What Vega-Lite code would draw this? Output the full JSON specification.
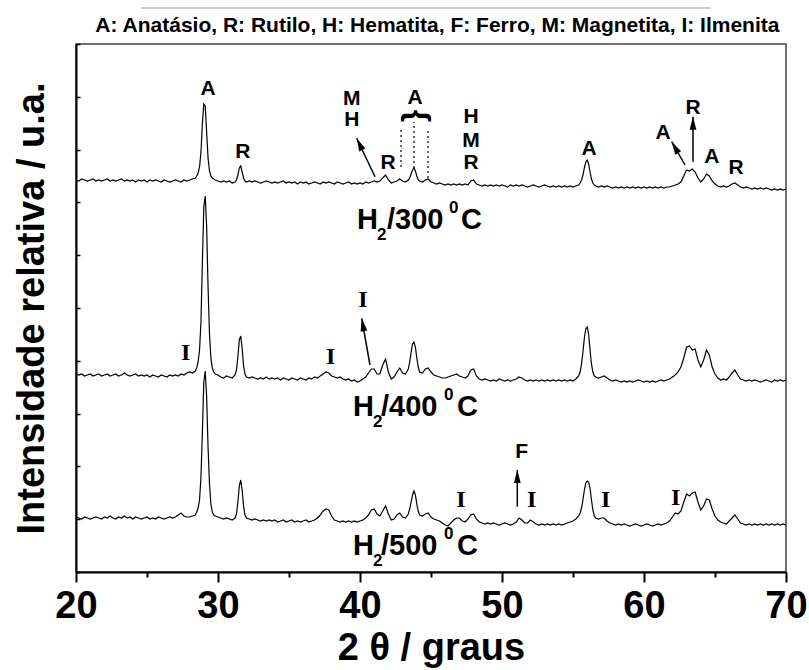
{
  "$schema": "https://vega.github.io/schema/vega-lite/v6.json",
  "width": 710,
  "height": 528,
  "autosize": {"type": "none"},
  "padding": {"left": 76, "top": 44, "right": 23, "bottom": 98},
  "background": "white",
  "config": {
    "view": {"stroke": "#444", "strokeWidth": 1.5},
    "font": "Liberation Sans"
  },
  "datasets": {
    "xrd": [
      {"t":20.0,"a":392,"b":198,"c":55},{"t":20.2,"a":391,"b":197,"c":54},{"t":20.4,"a":393,"b":198,"c":53},{"t":20.6,"a":392,"b":196,"c":55},{"t":20.8,"a":391,"b":197,"c":54},
      {"t":21.0,"a":392,"b":198,"c":53},{"t":21.2,"a":393,"b":196,"c":54},{"t":21.4,"a":391,"b":197,"c":55},{"t":21.6,"a":392,"b":198,"c":54},{"t":21.8,"a":391,"b":196,"c":53},
      {"t":22.0,"a":392,"b":197,"c":55},{"t":22.2,"a":393,"b":198,"c":54},{"t":22.4,"a":391,"b":196,"c":56},{"t":22.6,"a":392,"b":197,"c":54},{"t":22.8,"a":391,"b":198,"c":53},
      {"t":23.0,"a":392,"b":196,"c":55},{"t":23.2,"a":393,"b":197,"c":54},{"t":23.4,"a":391,"b":199,"c":56},{"t":23.6,"a":392,"b":197,"c":54},{"t":23.8,"a":391,"b":196,"c":55},
      {"t":24.0,"a":392,"b":197,"c":53},{"t":24.2,"a":390,"b":198,"c":55},{"t":24.4,"a":392,"b":196,"c":54},{"t":24.6,"a":391,"b":197,"c":53},{"t":24.8,"a":392,"b":196,"c":54},
      {"t":25.0,"a":390,"b":197,"c":55},{"t":25.2,"a":392,"b":195,"c":53},{"t":25.4,"a":391,"b":197,"c":54},{"t":25.6,"a":392,"b":196,"c":53},{"t":25.8,"a":391,"b":195,"c":55},
      {"t":26.0,"a":390,"b":197,"c":54},{"t":26.2,"a":392,"b":196,"c":53},{"t":26.4,"a":391,"b":195,"c":54},{"t":26.6,"a":390,"b":197,"c":55},{"t":26.8,"a":391,"b":196,"c":54},
      {"t":27.0,"a":392,"b":197,"c":55},{"t":27.2,"a":391,"b":196,"c":57},{"t":27.4,"a":390,"b":198,"c":59},{"t":27.6,"a":392,"b":197,"c":56},{"t":27.8,"a":391,"b":199,"c":55},
      {"t":28.0,"a":392,"b":200,"c":55},{"t":28.2,"a":393,"b":199,"c":56},{"t":28.4,"a":394,"b":201,"c":57},{"t":28.5,"a":396,"b":204,"c":60},{"t":28.6,"a":399,"b":210,"c":64},
      {"t":28.7,"a":405,"b":222,"c":72},{"t":28.8,"a":420,"b":250,"c":95},{"t":28.9,"a":448,"b":310,"c":140},{"t":29.0,"a":468,"b":365,"c":190},{"t":29.1,"a":466,"b":376,"c":201},
      {"t":29.2,"a":440,"b":345,"c":175},{"t":29.3,"a":414,"b":285,"c":125},{"t":29.4,"a":401,"b":238,"c":88},{"t":29.5,"a":396,"b":214,"c":68},{"t":29.6,"a":394,"b":204,"c":60},
      {"t":29.7,"a":393,"b":200,"c":57},{"t":29.8,"a":392,"b":198,"c":56},{"t":30.0,"a":391,"b":197,"c":55},{"t":30.2,"a":390,"b":195,"c":54},{"t":30.4,"a":391,"b":194,"c":53},
      {"t":30.6,"a":390,"b":196,"c":54},{"t":30.8,"a":391,"b":195,"c":53},{"t":31.0,"a":389,"b":194,"c":52},{"t":31.2,"a":390,"b":197,"c":54},{"t":31.3,"a":392,"b":202,"c":58},
      {"t":31.4,"a":397,"b":215,"c":70},{"t":31.5,"a":404,"b":232,"c":86},{"t":31.6,"a":406,"b":236,"c":92},{"t":31.7,"a":400,"b":224,"c":82},{"t":31.8,"a":394,"b":206,"c":66},
      {"t":31.9,"a":391,"b":198,"c":57},{"t":32.0,"a":390,"b":195,"c":54},{"t":32.2,"a":391,"b":194,"c":53},{"t":32.4,"a":390,"b":195,"c":52},{"t":32.6,"a":391,"b":194,"c":53},
      {"t":32.8,"a":390,"b":193,"c":52},{"t":33.0,"a":389,"b":194,"c":51},{"t":33.2,"a":390,"b":193,"c":52},{"t":33.4,"a":391,"b":195,"c":51},{"t":33.6,"a":390,"b":193,"c":52},
      {"t":33.8,"a":389,"b":194,"c":51},{"t":34.0,"a":390,"b":193,"c":52},{"t":34.2,"a":389,"b":194,"c":50},{"t":34.4,"a":390,"b":192,"c":51},{"t":34.6,"a":391,"b":194,"c":52},
      {"t":34.8,"a":389,"b":193,"c":50},{"t":35.0,"a":390,"b":192,"c":51},{"t":35.2,"a":389,"b":194,"c":52},{"t":35.4,"a":390,"b":193,"c":50},{"t":35.6,"a":388,"b":192,"c":51},
      {"t":35.8,"a":390,"b":194,"c":50},{"t":36.0,"a":389,"b":193,"c":51},{"t":36.2,"a":390,"b":192,"c":52},{"t":36.4,"a":388,"b":194,"c":50},{"t":36.6,"a":389,"b":193,"c":51},
      {"t":36.8,"a":390,"b":195,"c":52},{"t":37.0,"a":389,"b":194,"c":54},{"t":37.2,"a":388,"b":196,"c":57},{"t":37.4,"a":390,"b":198,"c":61},{"t":37.6,"a":389,"b":200,"c":63},
      {"t":37.8,"a":390,"b":199,"c":62},{"t":38.0,"a":389,"b":196,"c":56},{"t":38.2,"a":388,"b":195,"c":52},{"t":38.4,"a":390,"b":194,"c":51},{"t":38.6,"a":389,"b":195,"c":50},
      {"t":38.8,"a":388,"b":193,"c":51},{"t":39.0,"a":389,"b":192,"c":50},{"t":39.2,"a":390,"b":193,"c":51},{"t":39.4,"a":388,"b":191,"c":50},{"t":39.6,"a":389,"b":192,"c":51},
      {"t":39.8,"a":388,"b":190,"c":50},{"t":40.0,"a":389,"b":191,"c":51},{"t":40.2,"a":388,"b":193,"c":52},{"t":40.4,"a":390,"b":195,"c":54},{"t":40.6,"a":389,"b":199,"c":57},
      {"t":40.8,"a":390,"b":203,"c":62},{"t":41.0,"a":391,"b":203,"c":63},{"t":41.2,"a":390,"b":198,"c":58},{"t":41.4,"a":391,"b":198,"c":56},{"t":41.6,"a":394,"b":207,"c":61},
      {"t":41.8,"a":397,"b":213,"c":66},{"t":42.0,"a":392,"b":200,"c":58},{"t":42.2,"a":389,"b":193,"c":52},{"t":42.4,"a":390,"b":195,"c":53},{"t":42.6,"a":391,"b":200,"c":57},
      {"t":42.8,"a":393,"b":204,"c":59},{"t":43.0,"a":391,"b":199,"c":55},{"t":43.2,"a":390,"b":198,"c":54},{"t":43.4,"a":392,"b":203,"c":58},{"t":43.5,"a":394,"b":210,"c":63},
      {"t":43.6,"a":398,"b":220,"c":70},{"t":43.7,"a":402,"b":228,"c":77},{"t":43.8,"a":404,"b":230,"c":81},{"t":43.9,"a":401,"b":225,"c":77},{"t":44.0,"a":396,"b":214,"c":68},
      {"t":44.1,"a":392,"b":205,"c":61},{"t":44.2,"a":391,"b":200,"c":57},{"t":44.4,"a":390,"b":199,"c":56},{"t":44.6,"a":392,"b":203,"c":58},{"t":44.8,"a":393,"b":204,"c":59},
      {"t":45.0,"a":390,"b":200,"c":55},{"t":45.2,"a":389,"b":197,"c":53},{"t":45.4,"a":388,"b":196,"c":52},{"t":45.6,"a":389,"b":195,"c":51},{"t":45.8,"a":388,"b":194,"c":49},
      {"t":46.0,"a":387,"b":194,"c":47},{"t":46.2,"a":388,"b":195,"c":46},{"t":46.4,"a":387,"b":196,"c":49},{"t":46.6,"a":388,"b":197,"c":52},{"t":46.8,"a":387,"b":198,"c":54},
      {"t":47.0,"a":388,"b":196,"c":54},{"t":47.2,"a":387,"b":195,"c":51},{"t":47.4,"a":388,"b":194,"c":50},{"t":47.6,"a":387,"b":196,"c":53},{"t":47.8,"a":391,"b":202,"c":57},
      {"t":48.0,"a":392,"b":203,"c":58},{"t":48.2,"a":388,"b":196,"c":53},{"t":48.4,"a":387,"b":193,"c":50},{"t":48.6,"a":386,"b":192,"c":49},{"t":48.8,"a":387,"b":193,"c":48},
      {"t":49.0,"a":386,"b":192,"c":49},{"t":49.2,"a":387,"b":191,"c":48},{"t":49.4,"a":386,"b":192,"c":49},{"t":49.6,"a":387,"b":191,"c":48},{"t":49.8,"a":386,"b":193,"c":47},
      {"t":50.0,"a":387,"b":192,"c":48},{"t":50.2,"a":386,"b":191,"c":49},{"t":50.4,"a":385,"b":192,"c":48},{"t":50.6,"a":387,"b":191,"c":47},{"t":50.8,"a":386,"b":192,"c":48},
      {"t":51.0,"a":387,"b":193,"c":50},{"t":51.2,"a":386,"b":195,"c":54},{"t":51.4,"a":387,"b":194,"c":52},{"t":51.6,"a":386,"b":192,"c":49},{"t":51.8,"a":385,"b":191,"c":49},
      {"t":52.0,"a":386,"b":192,"c":52},{"t":52.2,"a":387,"b":191,"c":50},{"t":52.4,"a":386,"b":192,"c":48},{"t":52.6,"a":385,"b":191,"c":47},{"t":52.8,"a":386,"b":192,"c":48},
      {"t":53.0,"a":387,"b":191,"c":47},{"t":53.2,"a":386,"b":192,"c":48},{"t":53.4,"a":385,"b":191,"c":47},{"t":53.6,"a":386,"b":192,"c":48},{"t":53.8,"a":385,"b":191,"c":47},
      {"t":54.0,"a":386,"b":192,"c":48},{"t":54.2,"a":385,"b":191,"c":47},{"t":54.4,"a":386,"b":192,"c":48},{"t":54.6,"a":385,"b":191,"c":49},{"t":54.8,"a":386,"b":192,"c":50},
      {"t":55.0,"a":385,"b":191,"c":51},{"t":55.2,"a":386,"b":193,"c":53},{"t":55.4,"a":387,"b":196,"c":56},{"t":55.5,"a":389,"b":200,"c":59},{"t":55.6,"a":392,"b":208,"c":64},
      {"t":55.7,"a":397,"b":220,"c":72},{"t":55.8,"a":404,"b":234,"c":82},{"t":55.9,"a":410,"b":243,"c":89},{"t":56.0,"a":412,"b":245,"c":91},{"t":56.1,"a":408,"b":238,"c":90},
      {"t":56.2,"a":400,"b":222,"c":84},{"t":56.3,"a":393,"b":208,"c":72},{"t":56.4,"a":389,"b":200,"c":62},{"t":56.5,"a":387,"b":196,"c":56},{"t":56.6,"a":386,"b":195,"c":54},
      {"t":56.8,"a":385,"b":194,"c":53},{"t":57.0,"a":386,"b":195,"c":54},{"t":57.2,"a":385,"b":196,"c":54},{"t":57.4,"a":386,"b":194,"c":51},{"t":57.6,"a":385,"b":192,"c":49},
      {"t":57.8,"a":384,"b":191,"c":48},{"t":58.0,"a":385,"b":192,"c":47},{"t":58.2,"a":384,"b":191,"c":48},{"t":58.4,"a":385,"b":190,"c":47},{"t":58.6,"a":384,"b":191,"c":48},
      {"t":58.8,"a":385,"b":190,"c":47},{"t":59.0,"a":384,"b":191,"c":46},{"t":59.2,"a":385,"b":190,"c":47},{"t":59.4,"a":384,"b":191,"c":48},{"t":59.6,"a":385,"b":192,"c":47},
      {"t":59.8,"a":384,"b":191,"c":46},{"t":60.0,"a":385,"b":190,"c":47},{"t":60.2,"a":384,"b":191,"c":48},{"t":60.4,"a":385,"b":190,"c":47},{"t":60.6,"a":384,"b":191,"c":46},
      {"t":60.8,"a":385,"b":190,"c":47},{"t":61.0,"a":384,"b":191,"c":48},{"t":61.2,"a":385,"b":192,"c":47},{"t":61.4,"a":384,"b":191,"c":48},{"t":61.6,"a":385,"b":192,"c":49},
      {"t":61.8,"a":385,"b":193,"c":51},{"t":62.0,"a":386,"b":195,"c":55},{"t":62.2,"a":387,"b":197,"c":59},{"t":62.4,"a":388,"b":200,"c":58},{"t":62.6,"a":390,"b":205,"c":61},
      {"t":62.8,"a":396,"b":214,"c":70},{"t":63.0,"a":402,"b":225,"c":78},{"t":63.2,"a":401,"b":226,"c":76},{"t":63.4,"a":403,"b":222,"c":79},{"t":63.6,"a":400,"b":223,"c":80},
      {"t":63.8,"a":394,"b":212,"c":70},{"t":64.0,"a":390,"b":205,"c":62},{"t":64.2,"a":393,"b":212,"c":66},{"t":64.4,"a":398,"b":222,"c":73},{"t":64.6,"a":396,"b":217,"c":72},
      {"t":64.8,"a":391,"b":205,"c":63},{"t":65.0,"a":388,"b":198,"c":56},{"t":65.2,"a":386,"b":194,"c":52},{"t":65.4,"a":385,"b":192,"c":50},{"t":65.6,"a":386,"b":193,"c":49},
      {"t":65.8,"a":385,"b":192,"c":48},{"t":66.0,"a":386,"b":195,"c":51},{"t":66.2,"a":388,"b":199,"c":54},{"t":66.4,"a":389,"b":202,"c":57},{"t":66.6,"a":387,"b":197,"c":53},
      {"t":66.8,"a":385,"b":193,"c":49},{"t":67.0,"a":384,"b":192,"c":48},{"t":67.2,"a":385,"b":191,"c":47},{"t":67.4,"a":384,"b":192,"c":48},{"t":67.6,"a":383,"b":191,"c":47},
      {"t":67.8,"a":384,"b":192,"c":48},{"t":68.0,"a":383,"b":191,"c":47},{"t":68.2,"a":384,"b":190,"c":48},{"t":68.4,"a":383,"b":191,"c":47},{"t":68.6,"a":384,"b":192,"c":48},
      {"t":68.8,"a":383,"b":191,"c":47},{"t":69.0,"a":382,"b":190,"c":48},{"t":69.2,"a":383,"b":192,"c":47},{"t":69.4,"a":382,"b":191,"c":48},{"t":69.6,"a":383,"b":192,"c":47},
      {"t":69.8,"a":382,"b":191,"c":48},{"t":70.0,"a":383,"b":192,"c":47}
    ],
    "ann": [
      {"g":"T","x":45.45,"y":546,"txt":"A: Anatásio, R: Rutilo, H: Hematita, F: Ferro, M: Magnetita, I: Ilmenita"},
      {"g":"L","x":29.3,"y":483,"txt":"A"},{"g":"L","x":31.74,"y":420,"txt":"R"},
      {"g":"L","x":39.42,"y":473,"txt":"M"},{"g":"L","x":39.42,"y":452,"txt":"H"},
      {"g":"L","x":41.97,"y":409,"txt":"R"},{"g":"L","x":43.87,"y":474,"txt":"A"},
      {"g":"L","x":47.82,"y":455,"txt":"H"},{"g":"L","x":47.82,"y":431,"txt":"M"},{"g":"L","x":47.82,"y":409,"txt":"R"},
      {"g":"L","x":56.13,"y":423,"txt":"A"},{"g":"L","x":61.34,"y":439,"txt":"A"},
      {"g":"L","x":63.45,"y":464,"txt":"R"},{"g":"L","x":64.77,"y":415,"txt":"A"},
      {"g":"L","x":66.48,"y":404,"txt":"R"},{"g":"L","x":51.39,"y":120,"txt":"F"},
      {"g":"I","x":27.73,"y":219,"txt":"I"},{"g":"I","x":37.94,"y":215,"txt":"I"},{"g":"I","x":40.21,"y":272,"txt":"I"},
      {"g":"I","x":47.11,"y":72,"txt":"I"},{"g":"I","x":52.09,"y":72,"txt":"I"},{"g":"I","x":57.3,"y":72,"txt":"I"},{"g":"I","x":62.23,"y":74,"txt":"I"},
      {"g":"B","x":39.79,"y":343,"txt":"H"},{"g":"B","x":41.9,"y":343,"txt":"/300"},{"g":"B","x":47.11,"y":343,"txt":"C"},
      {"g":"S","x":41.2,"y":332,"txt":"2"},{"g":"S","x":46.27,"y":359,"txt":"0"},
      {"g":"B","x":39.51,"y":156,"txt":"H"},{"g":"B","x":41.48,"y":156,"txt":"/400"},{"g":"B","x":46.83,"y":156,"txt":"C"},
      {"g":"S","x":40.92,"y":145,"txt":"2"},{"g":"S","x":45.91,"y":172,"txt":"0"},
      {"g":"B","x":39.51,"y":17,"txt":"H"},{"g":"B","x":41.48,"y":17,"txt":"/500"},{"g":"B","x":46.83,"y":17,"txt":"C"},
      {"g":"S","x":40.92,"y":6,"txt":"2"},{"g":"S","x":45.91,"y":33,"txt":"0"},
      {"g":"K","x":44.09,"y":456,"txt":"{"}
    ],
    "arr": [
      {"x":41.056,"y":395.3,"x2":39.768,"y2":433.7},
      {"x":62.887,"y":407,"x2":61.951,"y2":430.3},
      {"x":63.451,"y":410.3,"x2":63.451,"y2":455.3},
      {"x":40.704,"y":207,"x2":40.12,"y2":253.7},
      {"x":51.077,"y":65.3,"x2":51.077,"y2":102}
    ],
    "dots": [
      {"x":42.887,"y":405,"y2":445},
      {"x":43.803,"y":404,"y2":450},
      {"x":44.789,"y":394,"y2":444}
    ],
    "top": [
      {"x":24.6,"x2":64.7,"y":564}
    ]
  },
  "layer": [
    {
      "data": {"name": "xrd"},
      "transform": [{"fold": ["a", "b", "c"], "as": ["s", "v"]}],
      "mark": {"type": "line", "color": "black", "strokeWidth": 1.2},
      "encoding": {
        "x": {
          "field": "t", "type": "quantitative",
          "scale": {"domain": [20, 70], "nice": false, "zero": false},
          "axis": {
            "title": "2 θ / graus", "grid": false,
            "values": [20, 25, 30, 35, 40, 45, 50, 55, 60, 65, 70],
            "labelExpr": "datum.value % 10 === 0 ? datum.label : ''",
            "labelFont": "Liberation Sans", "labelFontSize": 38, "labelFontWeight": "bold", "labelColor": "black",
            "labelPadding": 5, "labelFlush": false, "labelOverlap": false,
            "tickSize": {"condition": {"test": "datum.value % 10 === 0", "value": 10}, "value": 5},
            "tickColor": "black", "tickWidth": 2,
            "domainColor": "black", "domainWidth": 2,
            "titleFont": "Liberation Sans", "titleFontSize": 38, "titleFontWeight": "bold", "titleColor": "black",
            "titlePadding": 4
          }
        },
        "y": {
          "field": "v", "type": "quantitative",
          "scale": {"domain": [0, 528], "nice": false, "zero": false},
          "axis": {
            "title": "Intensidade relativa / u.a.", "grid": false, "labels": false,
            "values": [0,26.4,52.8,79.2,105.6,132,158.4,184.8,211.2,237.6,264,290.4,316.8,343.2,369.6,396,422.4,448.8,475.2,501.6,528],
            "tickSize": -4, "tickColor": "black", "tickWidth": 1.5,
            "domainColor": "black", "domainWidth": 2,
            "titleFont": "Liberation Sans", "titleFontSize": 38, "titleFontWeight": "bold", "titleColor": "black",
            "titlePadding": 24
          }
        },
        "detail": {"field": "s", "type": "nominal"}
      }
    },
    {
      "data": {"name": "dots"},
      "mark": {"type": "rule", "color": "black", "strokeWidth": 1.2, "strokeDash": [2, 3]},
      "encoding": {
        "x": {"field": "x", "type": "quantitative"},
        "y": {"field": "y", "type": "quantitative"},
        "y2": {"field": "y2"}
      }
    },
    {
      "data": {"name": "arr"},
      "mark": {"type": "rule", "color": "black", "strokeWidth": 1.5},
      "encoding": {
        "x": {"field": "x", "type": "quantitative"},
        "y": {"field": "y", "type": "quantitative"},
        "x2": {"field": "x2"},
        "y2": {"field": "y2"}
      }
    },
    {
      "data": {"name": "arr"},
      "transform": [{"calculate": "atan2((datum.x2 - datum.x) * 14.2, datum.y2 - datum.y) * 180 / PI", "as": "ang"}],
      "mark": {"type": "point", "shape": "M0,0L1.7,6.5L-1.7,6.5Z", "filled": true, "color": "black", "opacity": 1, "size": 16},
      "encoding": {
        "x": {"field": "x2", "type": "quantitative"},
        "y": {"field": "y2", "type": "quantitative"},
        "angle": {"field": "ang", "type": "quantitative", "scale": null}
      }
    },
    {
      "data": {"name": "top"},
      "mark": {"type": "rule", "color": "#999", "strokeWidth": 1},
      "encoding": {
        "x": {"field": "x", "type": "quantitative"},
        "x2": {"field": "x2"},
        "y": {"field": "y", "type": "quantitative"}
      }
    },
    {
      "data": {"name": "ann"},
      "transform": [{"filter": "datum.g === 'T'"}],
      "mark": {"type": "text", "font": "Liberation Sans", "fontWeight": "bold", "fontSize": 21, "align": "center", "baseline": "middle", "color": "black"},
      "encoding": {
        "x": {"field": "x", "type": "quantitative"},
        "y": {"field": "y", "type": "quantitative"},
        "text": {"field": "txt"}
      }
    },
    {
      "data": {"name": "ann"},
      "transform": [{"filter": "datum.g === 'L'"}],
      "mark": {"type": "text", "font": "Liberation Sans", "fontWeight": "bold", "fontSize": 21, "align": "center", "baseline": "middle", "color": "black"},
      "encoding": {
        "x": {"field": "x", "type": "quantitative"},
        "y": {"field": "y", "type": "quantitative"},
        "text": {"field": "txt"}
      }
    },
    {
      "data": {"name": "ann"},
      "transform": [{"filter": "datum.g === 'I'"}],
      "mark": {"type": "text", "font": "Liberation Serif", "fontWeight": "bold", "fontSize": 24, "align": "center", "baseline": "middle", "color": "black"},
      "encoding": {
        "x": {"field": "x", "type": "quantitative"},
        "y": {"field": "y", "type": "quantitative"},
        "text": {"field": "txt"}
      }
    },
    {
      "data": {"name": "ann"},
      "transform": [{"filter": "datum.g === 'B'"}],
      "mark": {"type": "text", "font": "Liberation Sans", "fontWeight": "bold", "fontSize": 29, "align": "left", "baseline": "alphabetic", "color": "black"},
      "encoding": {
        "x": {"field": "x", "type": "quantitative"},
        "y": {"field": "y", "type": "quantitative"},
        "text": {"field": "txt"}
      }
    },
    {
      "data": {"name": "ann"},
      "transform": [{"filter": "datum.g === 'S'"}],
      "mark": {"type": "text", "font": "Liberation Sans", "fontWeight": "bold", "fontSize": 17, "align": "left", "baseline": "alphabetic", "color": "black"},
      "encoding": {
        "x": {"field": "x", "type": "quantitative"},
        "y": {"field": "y", "type": "quantitative"},
        "text": {"field": "txt"}
      }
    },
    {
      "data": {"name": "ann"},
      "transform": [{"filter": "datum.g === 'K'"}],
      "mark": {"type": "text", "font": "Liberation Sans", "fontWeight": "bold", "fontSize": 32, "align": "center", "baseline": "middle", "angle": 90, "color": "black"},
      "encoding": {
        "x": {"field": "x", "type": "quantitative"},
        "y": {"field": "y", "type": "quantitative"},
        "text": {"field": "txt"}
      }
    }
  ]
}
